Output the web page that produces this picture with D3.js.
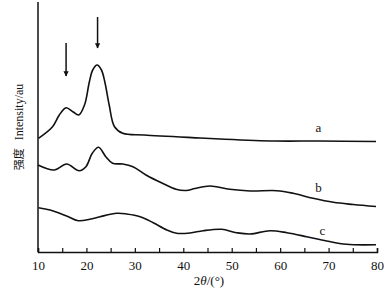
<!DOCTYPE html>
<html>
<head>
<meta charset="utf-8">
<script src="https://cdn.jsdelivr.net/npm/d3@7"></script>
<style>
  body { margin: 0; background: #fff; }
</style>
</head>
<body>
<div id="chart"></div>
<script>
// 2theta (deg) and relative intensity
const thetaA = [10.1, 13.0, 14.4, 15.8, 17.2, 18.4, 19.6, 20.6, 21.3, 22.2, 23.1, 23.8, 24.7, 25.8, 27.5, 31.9, 43.5, 47.6, 58.9, 68.2, 79.8];
const intensA = [113.7, 125.3, 137, 144.3, 140.3, 137, 147, 170, 182, 187, 182, 170, 147, 125.3, 118.7, 117, 114, 113, 111, 111, 110.5];

const thetaB = [10.0, 13.4, 15.9, 18.5, 19.9, 21.2, 22.5, 24.0, 25.4, 27.5, 29.6, 32.3, 35.7, 38.5, 40.6, 42.4, 45.5, 49.6, 53.8, 59.3, 62.7, 66.8, 71.0, 75.1, 79.8];
const intensB = [87, 82, 88, 81.3, 85.3, 98.7, 104.7, 95.3, 88.7, 88, 85.3, 77, 68.7, 62.7, 61.5, 63.5, 66, 62.7, 61, 61.3, 58.7, 53.7, 49.7, 47.5, 45.5];

const thetaC = [10.1, 12.5, 15.9, 18.3, 20.7, 22.8, 26.3, 28.3, 31.1, 33.8, 36.6, 38.6, 41.4, 44.1, 47.9, 51.0, 53.8, 57.9, 61.4, 65.5, 69.6, 73.7, 79.8];
const intensC = [44.3, 42, 36, 31.3, 32.7, 35.3, 38.7, 38, 35.3, 29.3, 22, 18.7, 19, 21.3, 22.7, 19.3, 18, 21.3, 19.3, 15.3, 11, 7.7, 7.3];

const seriesNames = ["a", "b", "c"];
const xTicks = [10, 20, 30, 40, 50, 60, 70, 80];
const arrowTheta = [15.8, 22.3];

const width = 390, height = 291;
const margin = { top: 2, right: 13, bottom: 39, left: 38 };
const serif = "'Liberation Serif', 'Times New Roman', 'DejaVu Serif', serif";

const svg = d3.select("#chart").append("svg")
  .attr("width", width)
  .attr("height", height);

const x = d3.scaleLinear().domain([10, 80]).range([margin.left, width - margin.right]);
const y = d3.scaleLinear().domain([0, 250]).range([height - margin.bottom, margin.top]);

const line = d3.line()
  .x((d) => x(d[0]))
  .y((d) => y(d[1]))
  .curve(d3.curveCatmullRom.alpha(0.5));

const series = [
  d3.zip(thetaA, intensA),
  d3.zip(thetaB, intensB),
  d3.zip(thetaC, intensC)
];

svg.selectAll(".curve")
  .data(series)
  .enter()
  .append("path")
  .attr("class", "curve")
  .attr("d", line)
  .attr("fill", "none")
  .attr("stroke", "#111")
  .attr("stroke-width", 1.6);

// curve labels
const labelPos = [[67.9, 124], [67.9, 64], [68.7, 21]];
svg.selectAll(".lab")
  .data(seriesNames)
  .enter()
  .append("text")
  .attr("class", "lab")
  .attr("x", (d, i) => x(labelPos[i][0]))
  .attr("y", (d, i) => y(labelPos[i][1]) + 4)
  .attr("text-anchor", "middle")
  .attr("font-family", serif)
  .attr("font-size", 13)
  .attr("fill", "#111")
  .text((d) => d);

// x axis, ticks point inward
const xAxis = d3.axisBottom(x)
  .tickValues(d3.range(10, 81, 5))
  .tickSize(-4)
  .tickFormat((d) => xTicks.includes(d) ? d : "");

const gx = svg.append("g")
  .attr("transform", `translate(0,${y(0)})`)
  .call(xAxis)
  .attr("font-family", serif)
  .attr("font-size", 13);
gx.select(".domain").attr("stroke", "#111").attr("stroke-width", 1.5);
gx.selectAll(".tick line").attr("stroke", "#111").attr("stroke-width", 1.2);
gx.selectAll(".tick text")
  .attr("y", 9)
  .attr("fill", "#111");

// y axis line only
svg.append("line")
  .attr("x1", x(10)).attr("x2", x(10))
  .attr("y1", y(250)).attr("y2", y(0))
  .attr("stroke", "#111")
  .attr("stroke-width", 1.5);

// arrows
svg.append("defs").append("marker")
  .attr("id", "head")
  .attr("viewBox", "0 0 10 10")
  .attr("refX", 9).attr("refY", 5)
  .attr("markerWidth", 3.5).attr("markerHeight", 5)
  .attr("markerUnits", "strokeWidth")
  .attr("orient", "auto")
  .append("path")
  .attr("d", "M0,0L10,5L0,10Z")
  .attr("fill", "#111");

const arrowY = [[209, 176], [235, 204]];
svg.selectAll(".arrow")
  .data(arrowTheta)
  .enter()
  .append("line")
  .attr("class", "arrow")
  .attr("x1", (d) => x(d)).attr("x2", (d) => x(d))
  .attr("y1", (d, i) => y(arrowY[i][0]))
  .attr("y2", (d, i) => y(arrowY[i][1]))
  .attr("stroke", "#111")
  .attr("stroke-width", 1.5)
  .attr("marker-end", "url(#head)");

// axis titles
const xt = svg.append("text")
  .attr("x", 209)
  .attr("y", 285)
  .attr("text-anchor", "middle")
  .attr("font-family", serif)
  .attr("font-size", 13)
  .attr("fill", "#111");
xt.append("tspan").text("2");
xt.append("tspan").attr("font-style", "italic").text("θ");
xt.append("tspan").text("/(°)");

const yt = svg.append("text")
  .attr("transform", "translate(23,127) rotate(-90)")
  .attr("text-anchor", "middle")
  .attr("font-family", serif)
  .attr("font-size", 12)
  .attr("fill", "#111");
yt.append("tspan")
  .attr("font-family", "'Noto Sans CJK SC', sans-serif")
  .attr("font-size", 11)
  .text("强度");
yt.append("tspan").attr("dx", 8).text("Intensity/au");
</script>
</body>
</html>
